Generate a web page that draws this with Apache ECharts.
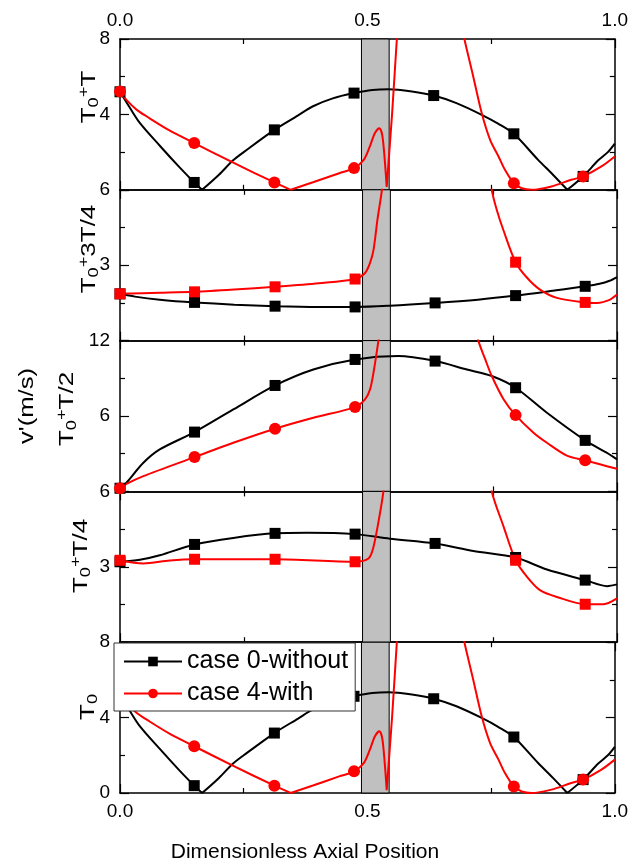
<!DOCTYPE html>
<html><head><meta charset="utf-8">
<script src="https://cdn.jsdelivr.net/npm/echarts@6/dist/echarts.min.js"></script>
<style>html,body{margin:0;padding:0;background:#fff}#c{width:631px;height:865px}</style>
</head><body><div id="c"></div>
<script>
// ---------------- DATA ----------------
const xTickLabels = ['0.0', '0.5', '1.0'];
const panelNames = [['T','0','+','T'], ['T','0','+','3T/4'], ['T','0','+','T/2'], ['T','0','+','T/4'], ['T','0','','']];
const yMax = [8, 6, 12, 6, 8];
const bandRange = [0.488, 0.544];
const legendNames = ['case 0-without', 'case 4-with'];

// T0 (and T0+T, identical periodic state): segments separated where curve has a kink / leaves the frame
const blackT0 = [
  [[0,5.2],[0.02,4.35],[0.04,3.55],[0.08,2.35],[0.12,1.2],[0.15,0.39],[0.166,0]],
  [[0.166,0],[0.2,0.8],[0.228,1.55],[0.25,2.0],[0.312,3.18],[0.36,3.95],[0.389,4.42],[0.43,4.85],[0.473,5.13],[0.51,5.3],[0.543,5.34],[0.59,5.22],[0.634,5.0],[0.68,4.6],[0.731,3.98],[0.765,3.5],[0.796,2.97],[0.845,1.59],[0.875,0.8],[0.904,0]],
  [[0.904,0],[0.936,0.71],[0.966,1.55],[0.986,2.0],[1.0,2.45]]
];
const redT0 = [
  [[0,5.21],[0.013,4.77],[0.034,4.24],[0.054,3.89],[0.1,3.15],[0.15,2.48],[0.228,1.45],[0.312,0.39],[0.345,0]],
  [[0.345,0],[0.39,0.4],[0.443,0.88],[0.473,1.15],[0.493,1.6],[0.505,2.3],[0.515,3.0],[0.524,3.27],[0.53,2.9],[0.535,1.6],[0.539,0.15]],
  [[0.539,0.15],[0.55,4.07],[0.56,8.2],[0.565,10]],
  [[0.685,9.4],[0.696,8],[0.714,6],[0.731,4.07],[0.748,2.65],[0.765,1.77],[0.778,1.06],[0.796,0.35],[0.812,0.08],[0.832,0],[0.872,0.18],[0.912,0.53],[0.936,0.71],[0.973,1.24],[1.0,1.77]]
];
const blackT0Marks = [[0,5.2],[0.15,0.39],[0.312,3.18],[0.473,5.13],[0.634,5.0],[0.796,2.97],[0.936,0.71]];
const redT0Marks = [[0,5.21],[0.15,2.48],[0.312,0.39],[0.473,1.15],[0.796,0.35],[0.936,0.71]];

// T0+3T/4
const black3T4 = [
  [[0,1.86],[0.03,1.75],[0.08,1.63],[0.15,1.52],[0.23,1.43],[0.312,1.37],[0.4,1.34],[0.473,1.34],[0.543,1.39],[0.634,1.5],[0.72,1.63],[0.796,1.79],[0.87,1.98],[0.936,2.16],[0.965,2.26],[0.985,2.38],[1.0,2.53]]
];
const red3T4 = [
  [[0,1.86],[0.08,1.9],[0.15,1.94],[0.23,2.03],[0.312,2.14],[0.4,2.28],[0.473,2.45],[0.493,2.69],[0.503,3.09],[0.51,3.6],[0.518,4.81],[0.527,6.0],[0.533,7.2]],
  [[0.742,7.2],[0.748,6],[0.758,5.21],[0.771,4.42],[0.796,3.12],[0.819,2.5],[0.845,2.03],[0.879,1.7],[0.936,1.52],[0.96,1.5],[0.985,1.62],[1.0,1.83]]
];
const black3T4Marks = [[0,1.86],[0.15,1.52],[0.312,1.37],[0.473,1.34],[0.634,1.5],[0.796,1.79],[0.936,2.16]];
const red3T4Marks = [[0,1.86],[0.15,1.94],[0.312,2.14],[0.473,2.45],[0.796,3.12],[0.936,1.52]];

// T0+T/2
const blackT2 = [
  [[0,0.25],[0.013,0.7],[0.047,2.28],[0.08,3.34],[0.15,4.72],[0.228,6.52],[0.312,8.43],[0.389,9.7],[0.473,10.5],[0.56,10.77],[0.634,10.37],[0.698,9.7],[0.748,9.18],[0.796,8.25],[0.859,6.26],[0.936,4.06],[0.979,3.08],[1.0,2.55]]
];
const redT2 = [
  [[0,0.25],[0.013,0.6],[0.047,1.22],[0.15,2.73],[0.228,3.87],[0.312,4.99],[0.389,5.86],[0.473,6.71],[0.493,7.32],[0.503,8.11],[0.51,9.44],[0.52,12],[0.525,13.5]],
  [[0.713,13.5],[0.721,12],[0.735,10.5],[0.748,9.18],[0.772,7.32],[0.796,6.07],[0.832,4.67],[0.859,3.87],[0.899,2.85],[0.936,2.47],[0.98,2.0],[1.0,1.8]]
];
const blackT2Marks = [[0,0.25],[0.15,4.72],[0.312,8.43],[0.473,10.5],[0.634,10.37],[0.796,8.25],[0.936,4.06]];
const redT2Marks = [[0,0.25],[0.15,2.73],[0.312,4.99],[0.473,6.71],[0.796,6.07],[0.936,2.47]];

// T0+T/4
const blackT4 = [
  [[0,3.2],[0.04,3.28],[0.08,3.46],[0.15,3.89],[0.228,4.15],[0.312,4.33],[0.376,4.35],[0.473,4.3],[0.543,4.12],[0.634,3.93],[0.711,3.63],[0.796,3.37],[0.859,2.89],[0.936,2.47],[0.98,2.23],[1.0,2.3]]
];
const redT4 = [
  [[0,3.26],[0.047,3.13],[0.1,3.25],[0.15,3.3],[0.312,3.3],[0.473,3.2],[0.5,3.33],[0.51,3.79],[0.523,5.12],[0.53,6.0],[0.535,7]],
  [[0.743,7],[0.748,6],[0.772,4.59],[0.796,3.26],[0.819,2.6],[0.845,2.07],[0.879,1.8],[0.936,1.51],[0.973,1.51],[1.0,1.74]]
];
const blackT4Marks = [[0,3.2],[0.15,3.89],[0.312,4.33],[0.473,4.3],[0.634,3.93],[0.796,3.37],[0.936,2.47]];
const redT4Marks = [[0,3.26],[0.15,3.3],[0.312,3.3],[0.473,3.2],[0.796,3.26],[0.936,1.51]];

// ---------------- BUILD ----------------
const FONT = '"Liberation Sans", Arial, Helvetica, sans-serif';
const joinSegs = segs => segs.flatMap((s, i) => i ? [[s[0][0], '-'], ...s] : s);

const panels = [
  {black: blackT0, red: redT0, bm: blackT0Marks, rm: redT0Marks, redSym: 'circle'},
  {black: black3T4, red: red3T4, bm: black3T4Marks, rm: red3T4Marks, redSym: 'rect'},
  {black: blackT2, red: redT2, bm: blackT2Marks, rm: redT2Marks, redSym: 'circle'},
  {black: blackT4, red: redT4, bm: blackT4Marks, rm: redT4Marks, redSym: 'rect'},
  {black: blackT0, red: redT0, bm: blackT0Marks, rm: redT0Marks, redSym: 'circle'}
];

const TOP0 = 39, PH = 150.8, LEFT = 120, RIGHT = 14;
const grids = [], xAxes = [], yAxes = [], series = [];
const lineAx = {show: true, onZero: false, lineStyle: {color: '#000', width: 1.5}};
const tickAx = {show: true, inside: true, length: 9, lineStyle: {color: '#000', width: 1.2}};
const minorAx = {show: true, splitNumber: 2, length: 5, lineStyle: {color: '#000', width: 1.2}};

panels.forEach((pn, p) => {
  grids.push({left: LEFT, right: RIGHT, top: TOP0 + p * PH, height: PH, containLabel: false});
  ['bottom', 'top'].forEach(pos => {
    xAxes.push({
      gridIndex: p, type: 'value', position: pos, min: 0, max: 1, interval: 0.5,
      axisLine: lineAx, axisTick: tickAx, minorTick: minorAx,
      splitLine: {show: false}, minorSplitLine: {show: false},
      axisLabel: {
        show: (pos === 'bottom' && p === 4) || (pos === 'top' && p === 0),
        margin: 9, fontSize: 19, color: '#000', fontFamily: FONT,
        formatter: v => xTickLabels[Math.round(v * 2)]
      }
    });
  });
  ['left', 'right'].forEach(pos => {
    yAxes.push({
      gridIndex: p, type: 'value', position: pos, min: 0, max: yMax[p], interval: yMax[p] / 2,
      axisLine: lineAx, axisTick: tickAx, minorTick: minorAx,
      splitLine: {show: false}, minorSplitLine: {show: false},
      axisLabel: {
        show: pos === 'left', showMinLabel: p === 4, showMaxLabel: true,
        margin: 10, fontSize: 19, color: '#000', fontFamily: FONT
      }
    });
  });
});

panels.forEach((pn, p) => {
  const xi = 2 * p, yi = 2 * p;
  series.push({
    type: 'line', name: legendNames[0], xAxisIndex: xi, yAxisIndex: yi,
    data: joinSegs(pn.black), showSymbol: false, symbol: 'rect', symbolSize: 11,
    smooth: 0.3, connectNulls: false,
    lineStyle: {color: '#000', width: 2}, itemStyle: {color: '#000'},
    emphasis: {disabled: true}, z: 3,
    markArea: {
      silent: true, z: 1,
      itemStyle: {color: '#c0c0c0', borderColor: '#000', borderWidth: 1},
      data: [[{xAxis: bandRange[0], yAxis: 0}, {xAxis: bandRange[1], yAxis: yMax[p]}]]
    }
  });
  series.push({
    type: 'line', name: legendNames[1], xAxisIndex: xi, yAxisIndex: yi,
    data: joinSegs(pn.red), showSymbol: false, symbol: pn.redSym, symbolSize: 12,
    smooth: 0.3, connectNulls: false,
    lineStyle: {color: '#ff0000', width: 2}, itemStyle: {color: '#ff0000'},
    emphasis: {disabled: true}, z: 3
  });
});
panels.forEach((pn, p) => {
  const xi = 2 * p, yi = 2 * p;
  series.push({
    type: 'scatter', name: legendNames[0], xAxisIndex: xi, yAxisIndex: yi,
    data: pn.bm, symbol: 'rect', symbolSize: 11, itemStyle: {color: '#000', opacity: 1},
    emphasis: {disabled: true}, z: 4
  });
  series.push({
    type: 'scatter', name: legendNames[1], xAxisIndex: xi, yAxisIndex: yi,
    data: pn.rm, symbol: pn.redSym, symbolSize: pn.redSym === 'rect' ? 11 : 12,
    itemStyle: {color: '#ff0000', opacity: 1},
    emphasis: {disabled: true}, z: 5
  });
});

// y-axis panel titles (rotated rich text, stretched along their length like the original)
const nameCenters = [[89, 97], [89, 249], [67, 409], [81, 556], [88, 707]];
const rich = {
  a: {fontSize: 20, fontFamily: FONT, color: '#000', lineHeight: 24},
  s: {fontSize: 14, fontFamily: FONT, color: '#000', lineHeight: 8, verticalAlign: 'bottom'},
  p: {fontSize: 14, fontFamily: FONT, color: '#000', lineHeight: 8, verticalAlign: 'top'}
};
const graphics = panelNames.map((nm, p) => {
  let t = '{a|' + nm[0] + '}{s|' + nm[1] + '}';
  if (nm[2]) t += '{p|' + nm[2] + '}';
  if (nm[3]) t += '{a|' + nm[3] + '}';
  return {
    type: 'text', x: nameCenters[p][0], y: nameCenters[p][1], rotation: Math.PI / 2, scaleX: 1.3, scaleY: 1,
    style: {text: t, rich: rich, align: 'center', verticalAlign: 'middle', fill: '#000'}, z: 20
  };
});
graphics.push({
  type: 'text', x: 27, y: 406, rotation: Math.PI / 2, scaleX: 1.28, scaleY: 1,
  style: {text: "v'(m/s)", font: '20px ' + FONT, fill: '#000', align: 'center', verticalAlign: 'middle'}, z: 20
});
graphics.push({
  type: 'text', x: 305, y: 852,
  style: {text: 'Dimensionless Axial Position', font: '21px ' + FONT, fill: '#000', align: 'center', verticalAlign: 'middle'}, z: 20
});

const chart = echarts.init(document.getElementById('c'), null, {renderer: 'canvas', width: 631, height: 865});
chart.setOption({
  animation: false,
  backgroundColor: '#fff',
  textStyle: {fontFamily: FONT},
  grid: grids, xAxis: xAxes, yAxis: yAxes, series: series,
  legend: {
    data: legendNames, orient: 'vertical', left: 114, top: 643,
    itemWidth: 58, itemHeight: 12, itemGap: 7, padding: [6, 7, 5, 9],
    backgroundColor: '#fff', borderColor: '#333', borderWidth: 1, borderRadius: 0,
    textStyle: {fontSize: 25, color: '#000', lineHeight: 24, fontFamily: FONT},
    selectedMode: false, z: 10
  },
  graphic: graphics
});
</script></body></html>
